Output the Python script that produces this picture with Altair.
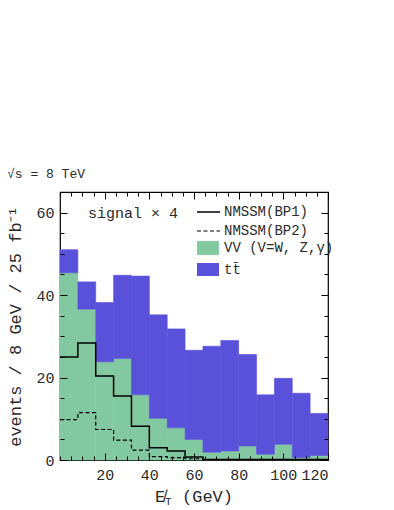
import altair as alt
import pandas as pd

# ---------------- data ----------------
edges = [0, 8, 16, 24, 32, 40, 48, 56, 64, 72, 80, 88, 96, 104, 112, 120]
vv = [45.4, 36.6, 23.8, 24.6, 15.8, 10.1, 7.8, 5.0, 1.9, 2.2, 3.4, 1.4, 3.8, 0.6, 1.1]
ttbar = [5.6, 6.6, 14.4, 20.2, 28.8, 25.1, 24.0, 21.6, 25.7, 26.8, 22.2, 14.4, 16.0, 15.6, 10.2]
bp1 = [25.0, 28.4, 20.4, 15.5, 8.2, 3.0, 2.2, 0.7, 0.15, 0.1, 0.1, 0.1, 0.1, 0.1, 0.1]
bp2 = [9.8, 11.5, 7.4, 4.8, 2.4, 0.8, 0.6, 0.3, 0.1, 0.1, 0.1, 0.1, 0.1, 0.1, 0.1]

x_major = [20, 40, 60, 80, 100, 120]
x_minor = list(range(0, 121, 5))
y_major = [0, 20, 40, 60]
y_minor = list(range(0, 66, 5))

legend_labels = ["NMSSM(BP1)", "NMSSM(BP2)", "VV (V=W, Z,\u03b3)", "tt\u0304"]
signal_label = "signal \u00d7 4"
energy_label = "\u221as = 8 TeV"
y_title = "events / 8 GeV / 25 fb\u207b\u00b9"

GREEN = "#82c9a2"
PURPLE = "#5a51da"
FONT = "Liberation Mono"
TXT = "#2a2a2a"

# ---------------- tables ----------------
vv_df = pd.DataFrame({"x0": edges[:-1], "x1": edges[1:], "lo": [0.0] * len(vv), "hi": vv})
tt_df = pd.DataFrame({"x0": edges[:-1], "x1": edges[1:], "lo": vv,
                      "hi": [a + b for a, b in zip(vv, ttbar)]})
bp1_df = pd.DataFrame({"x": edges, "y": bp1 + [bp1[-1]]})
bp2_df = pd.DataFrame({"x": edges, "y": bp2 + [bp2[-1]]})

xs = alt.Scale(domain=[0, 120], nice=False, zero=False)
ys = alt.Scale(domain=[0, 65], nice=False)

MAJ, MIN = 7, 4

def ax(orient, values, size, labels=False, **kw):
    return alt.Axis(orient=orient, values=values, tickSize=size, offset=-size,
                    domain=False, grid=False, labels=labels, tickColor="black",
                    tickWidth=1, zindex=2, title=None, **kw)

ax_bottom_major = ax("bottom", x_major, MAJ, labels=True, labelPadding=7,
                     labelFontSize=15, labelFont=FONT, labelColor=TXT)
ax_bottom_minor = ax("bottom", x_minor, MIN)
ax_top_major = ax("top", x_major, MAJ)
ax_top_minor = ax("top", x_minor, MIN)
ax_left_major = alt.Axis(orient="left", values=y_major, tickSize=MAJ, offset=-MAJ,
                         domain=False, grid=False, tickColor="black", zindex=2,
                         labelPadding=6, labelFontSize=15, labelFont=FONT,
                         labelColor=TXT, title=y_title, titleFont=FONT,
                         titleFontSize=17, titleFontWeight="normal",
                         titleColor=TXT, titlePadding=11)
ax_left_minor = ax("left", y_minor, MIN)
ax_right_major = ax("right", y_major, MAJ)
ax_right_minor = ax("right", y_minor, MIN)

vv_layer = alt.Chart(vv_df).mark_rect(color=GREEN, stroke=GREEN, strokeWidth=0.6).encode(
    x=alt.X("x0:Q", scale=xs, axis=ax_bottom_major), x2="x1:Q",
    y=alt.Y("lo:Q", scale=ys, axis=ax_left_major), y2="hi:Q")
tt_layer = alt.Chart(tt_df).mark_rect(color=PURPLE, stroke=PURPLE, strokeWidth=0.6).encode(
    x=alt.X("x0:Q", scale=xs, axis=ax_bottom_minor), x2="x1:Q",
    y=alt.Y("lo:Q", scale=ys, axis=ax_left_minor), y2="hi:Q")
bp1_layer = alt.Chart(bp1_df).mark_line(interpolate="step-after", color="black",
                                        strokeWidth=1.5).encode(
    x=alt.X("x:Q", scale=xs, axis=ax_top_major),
    y=alt.Y("y:Q", scale=ys, axis=ax_right_major))
bp2_layer = alt.Chart(bp2_df).mark_line(interpolate="step-after", color="black",
                                        strokeWidth=1.2, strokeDash=[4, 2.5]).encode(
    x=alt.X("x:Q", scale=xs, axis=ax_top_minor),
    y=alt.Y("y:Q", scale=ys, axis=ax_right_minor))

def txt(s, x, y, size, align="left", baseline="middle"):
    return alt.Chart(pd.DataFrame({"t": [s]})).mark_text(
        font=FONT, fontSize=size, align=align, baseline=baseline, color=TXT
    ).encode(text="t:N", x=alt.value(x), y=alt.value(y))

one = pd.DataFrame({"a": [0]})
leg_x0, leg_x1, leg_tx = 137, 160, 164
legend = [
    alt.Chart(one).mark_rule(color="black", strokeWidth=1.5).encode(
        x=alt.value(leg_x0), x2=alt.value(leg_x1), y=alt.value(20)),
    alt.Chart(one).mark_rule(color="black", strokeWidth=1.2, strokeDash=[4, 2.5]).encode(
        x=alt.value(leg_x0), x2=alt.value(leg_x1), y=alt.value(39)),
    alt.Chart(one).mark_rect(color=GREEN).encode(
        x=alt.value(leg_x0), x2=alt.value(leg_x1 - 1), y=alt.value(49), y2=alt.value(63)),
    alt.Chart(one).mark_rect(color=PURPLE).encode(
        x=alt.value(leg_x0), x2=alt.value(leg_x1 - 1), y=alt.value(71), y2=alt.value(84)),
    txt(legend_labels[0], leg_tx, 20, 14),
    txt(legend_labels[1], leg_tx, 39, 14),
    txt(legend_labels[2], leg_tx, 56, 14),
    txt(legend_labels[3], leg_tx, 78, 14),
]

annotations = [
    txt(signal_label, 28, 21, 15),
    txt(energy_label, -53, -18, 13),
    txt("E\u0338", 95, 305, 17),
    txt("T", 105, 310, 11),
    txt("(GeV)", 122, 305, 17),
]

chart = alt.layer(vv_layer, tt_layer, bp1_layer, bp2_layer, *legend, *annotations).resolve_axis(
    x="independent", y="independent"
).properties(
    width=268, height=268,
    autosize=alt.AutoSizeParams(type="none"),
    padding={"left": 52, "top": 184, "right": 50, "bottom": 60},
).configure_view(stroke="black", strokeWidth=1.2)

chart.save("out.html", embed_options={"renderer": "svg", "actions": False})
